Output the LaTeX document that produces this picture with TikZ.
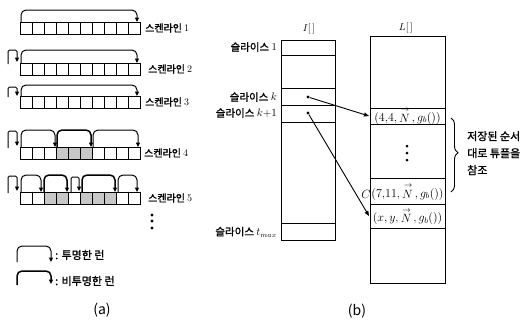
\documentclass[tikz,border=0pt]{standalone}
\usepackage{fontspec}
\newfontfamily\kr{Noto Sans CJK KR}[FakeBold=1.2]
\newfontfamily\krl{Noto Sans CJK KR}
\usetikzlibrary{arrows.meta,decorations.pathreplacing}
\newcommand{\vN}{\mathop{N}\limits^{\rightarrow}}
\begin{document}
\begin{tikzpicture}[x=1pt,y=-1pt,
  tip/.style={-{Triangle[length=4.5pt,width=4pt]}},
  tr/.style={tip, line width=1pt, rounded corners=5pt},
  op/.style={tip, line width=1.5pt, rounded corners=5pt},
  lp/.style={tip, line width=1pt, rounded corners=1.5pt},
  cell/.style={line width=0.9pt},
  shade/.style={fill=black!22, draw=none},
  lbl/.style={font=\kr\fontsize{10}{12}\selectfont, anchor=west, inner sep=0pt},
  slbl/.style={font=\kr\fontsize{10.5}{12}\selectfont, anchor=east, inner sep=0pt},
  tup/.style={font=\fontsize{12}{13}\selectfont, inner sep=0pt},
  dot/.style={circle, fill=black, inner sep=0pt, minimum size=3.2pt},
  col/.style={line width=1pt},
  ptr/.style={line width=0.9pt, -{Triangle[length=5pt,width=4pt]}}
]
\useasboundingbox (0,0) rectangle (528,330);

% ---------- (a) scanlines ----------
\foreach \i in {3,4,5} \fill[shade] ({20+12*\i},147) rectangle ++(12,12);
\foreach \i in {2,3,5,6,7} \fill[shade] ({20+12*\i},192) rectangle ++(12,12);
\foreach \y in {22,63,96,147,192}
  \foreach \i in {0,...,9}
    \draw[cell] ({20+12*\i},\y) rectangle ++(12,12);

% row 1
\draw[tr] (21,22) -- (21,10) -- (137,10) -- (137,22);
% row 2
\draw[lp] (8,64) -- (8,50) -- (17,50) -- (17,62);
\draw[tr] (21,63) -- (21,50) -- (137,50) -- (137,63);
% row 3
\draw[lp] (8,97) -- (8,87) -- (17,87) -- (17,96);
\draw[tr] (21,96) -- (21,85) -- (137,85) -- (137,96);
% row 4
\draw[lp] (8,148) -- (8,131) -- (17,131) -- (17,146);
\draw[tr] (21,147) -- (21,130) -- (55,130) -- (55,147);
\draw[op] (57,147) -- (57,130) -- (91,130) -- (91,147);
\draw[tr] (93,147) -- (93,130) -- (138,130) -- (138,147);
% row 5
\draw[lp] (8,193) -- (8,176) -- (17,176) -- (17,191);
\draw[tr] (21,192) -- (21,175) -- (41,175) -- (41,192);
\draw[op] (44,192) -- (44,175) -- (67,175) -- (67,192);
\draw[lp] (71,193) -- (71,177) -- (79,177) -- (79,191);
\draw[op] (82,192) -- (82,175) -- (115,175) -- (115,192);
\draw[tr] (118,192) -- (118,175) -- (137,175) -- (137,192);

\node[lbl] (s1) at (145,28) {스켄라인 {\rmfamily 1}};
\node[lbl] (s2) at (148,69) {스켄라인 {\rmfamily 2}};
\node[lbl] (s3) at (145,102) {스켄라인 {\rmfamily 3}};
\node[lbl] (s4) at (144,153) {스켄라인 {\rmfamily 4}};
\node[lbl] (s5) at (148,198) {스켄라인 {\rmfamily 5}};

\node[dot] (va1) at (152,215) {};
\node[dot] (va2) at (152,221) {};
\node[dot] (va3) at (152,228) {};

% legend
\draw[tr] (17,262) -- (17,246) -- (51,246) -- (51,262);
\draw[op] (17,285) -- (17,271) -- (51,271) -- (51,284);
\node[lbl, font=\kr\fontsize{11}{12}\selectfont] (lg1) at (55,255) {: 투명한 런};
\node[lbl, font=\kr\fontsize{11}{12}\selectfont] (lg2) at (55,281) {: 비투명한 런};

\node[font=\krl\fontsize{14}{16}\selectfont] (la) at (102,310) {(a)};

% ---------- (b) ----------
\draw[col] (281,40) rectangle (335,240);
\draw[line width=0.5pt] (281,55) -- (335,55);
\foreach \y in {88,105,122,223} \draw[col] (281,\y) -- (335,\y);
\node[tup, font=\fontsize{10}{12}\selectfont] (Il) at (309,29) {$I[\,]$};

\node[slbl] (sl1) at (277,47) {슬라이스 {\rmfamily 1}};
\node[slbl] (slk) at (277,97) {슬라이스 $k$};
\node[slbl] (slk1) at (277,113) {슬라이스 $k{+}1$};
\node[slbl] (slt) at (277,232) {슬라이스 $t_{max}$};

\node[dot] (dk) at (308,97) {};
\node[dot] (dk1) at (308,113) {};

\draw[col] (370,36) rectangle (445,283);
\foreach \y in {108,124,178,204,228} \draw[col] (370,\y) -- (445,\y);
\node[tup, font=\fontsize{10}{12}\selectfont] (Ll) at (406,28) {$L[\,]$};

\node[tup] (t1) at (407.5,116) {$(4{,}4{,}\vN{,}\,g_b())$};
\node[tup] (t2) at (407.5,192) {$(7{,}11{,}\vN{,}\,g_b())$};
\node[tup] (t3) at (407.5,216.5) {$(x{,}\,y{,}\vN{,}\,g_b())$};
\node[tup] (cc) at (366,194) {$C$};

\node[dot, minimum size=3pt] (vb1) at (407,146) {};
\node[dot, minimum size=3pt] (vb2) at (407,153) {};
\node[dot, minimum size=3pt] (vb3) at (407,160) {};

\coordinate (e1) at (369,116);
\coordinate (e2) at (369,216);
\draw[ptr] (dk) -- (e1);
\draw[ptr] (dk1) -- (e2);

\draw[line width=0.9pt, decorate, decoration={brace, amplitude=7pt, aspect=0.47}] (451,118) -- (451,192);
\node[anchor=north west, align=left, inner sep=0pt, font=\kr\fontsize{11}{17}\selectfont] (note) at (467,131) {저장된 순서\\대로 튜플을\\참조};

\node[font=\krl\fontsize{14}{16}\selectfont] (lb) at (357,311) {(b)};
\end{tikzpicture}
\end{document}
